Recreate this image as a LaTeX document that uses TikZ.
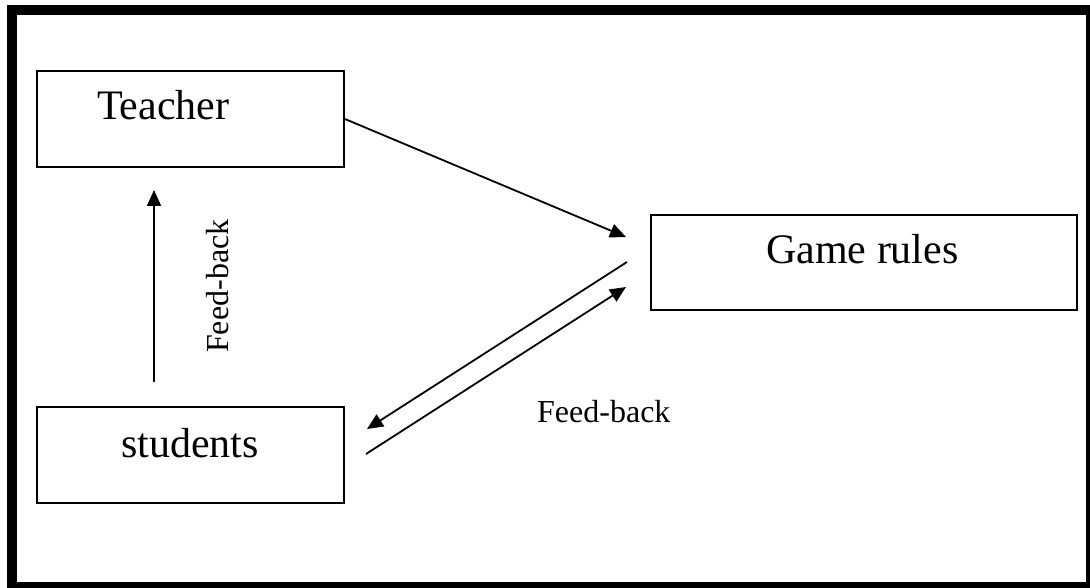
\documentclass[tikz,border=0pt]{standalone}
\usepackage{fontspec}
\setmainfont{Liberation Serif}
\usetikzlibrary{arrows.meta}
\begin{document}
\begin{tikzpicture}[x=1pt,y=-1pt,
  box/.style={draw,line width=2.2pt,inner sep=0pt,anchor=north west},
  link/.style={line width=1.8pt},
  arr/.style={link,-{Triangle[length=16pt,width=14pt]}},
  big/.style={font=\fontsize{42}{44}\selectfont,inner sep=0pt,anchor=base west},
  small/.style={font=\fontsize{32}{36}\selectfont,inner sep=0pt,anchor=base west}]
  \useasboundingbox (0,0) rectangle (1090,588);
  % outer frame
  \draw[line width=10pt] (12,10.5) rectangle (1091,587);
  % boxes
  \node[box,minimum width=307pt,minimum height=96pt] (teacher) at (36,70) {};
  \node[box,minimum width=426pt,minimum height=95pt] (rules) at (650,214) {};
  \node[box,minimum width=307pt,minimum height=96pt] (students) at (36,406) {};
  % labels
  \node[big] (tlab) at (97,120) {Teacher};
  \node[big] (rlab) at (766,263) {Game rules};
  \node[big] (slab) at (121,457) {students};
  \node[small] (fb1) at (537,422) {Feed-back};
  \node[small,rotate=90] (fb2) at (228,353) {Feed-back};
  % connector end points
  \coordinate (t1) at (626,237);
  \coordinate (a1) at (627,262);
  \coordinate (a2) at (367,429);
  \coordinate (b1) at (366,454);
  \coordinate (b2) at (626,287);
  \coordinate (v1) at (154,382);
  \coordinate (v2) at (154,190);
  % connectors
  \draw[arr] (teacher.east) -- (t1);
  \draw[arr] (a1) -- (a2);
  \draw[arr] (b1) -- (b2);
  \draw[arr] (v1) -- (v2);
\end{tikzpicture}
\end{document}
